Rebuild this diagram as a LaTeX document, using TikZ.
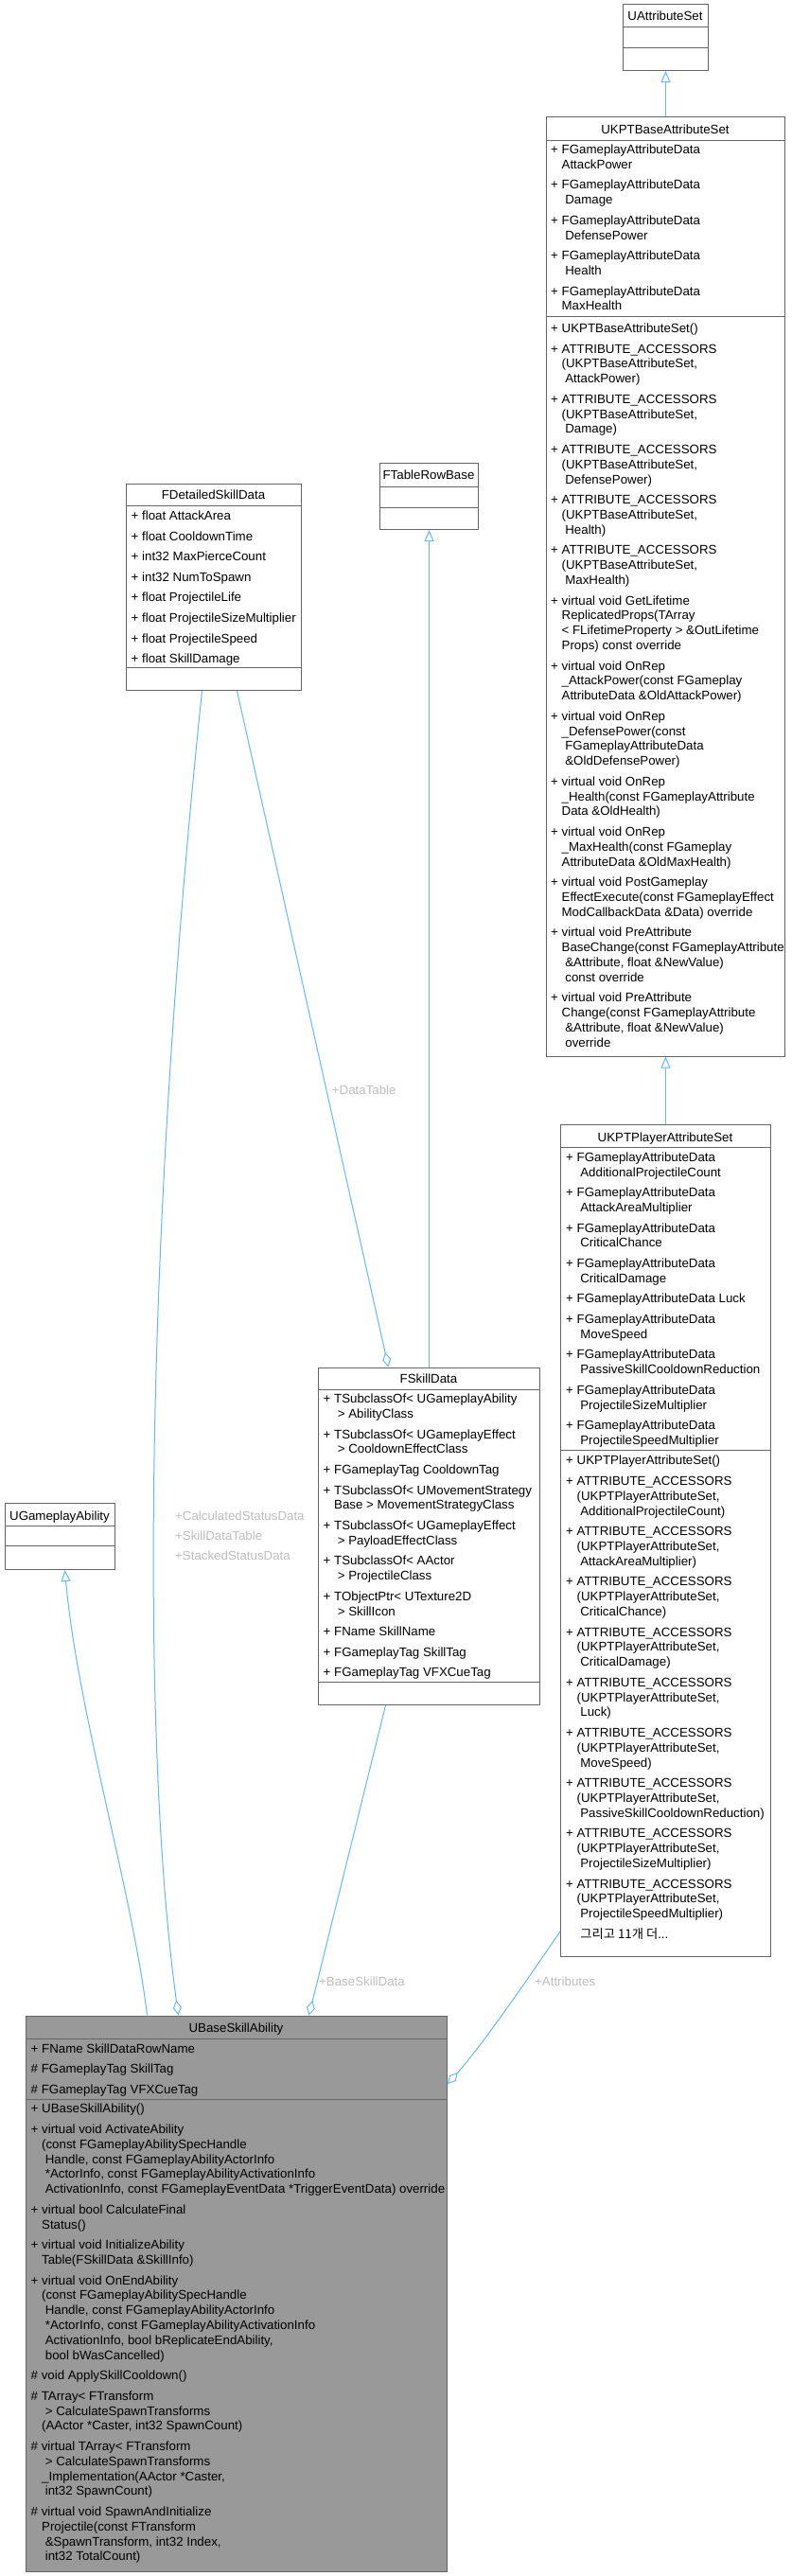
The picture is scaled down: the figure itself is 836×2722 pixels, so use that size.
\documentclass[tikz,border=0pt]{standalone}
\usepackage{fontspec}
\setmainfont{Liberation Sans}
\newfontfamily\krfont{Noto Sans CJK KR}
\usetikzlibrary{arrows.meta}
\definecolor{boxline}{HTML}{666666}
\definecolor{boxfill}{HTML}{999999}
\definecolor{edgeblue}{HTML}{63B8FF}
\definecolor{labelgray}{HTML}{BEBEBE}
\newcommand\dfs{\fontsize{13.3}{15.8}\selectfont}
\newcommand\ind{\hphantom{+\ }}
\newcommand\itemgap{\\[5.8pt]}
\newcommand\lblgap{\\[5.4pt]}
\newcommand\rows[1]{\begin{tabular}[t]{@{}l@{}}#1\end{tabular}}
\tikzset{
  classbox/.style={draw=boxline, line width=1pt, fill=white, inner sep=0pt, anchor=north west},
  hibox/.style={classbox, fill=boxfill},
  sepline/.style={draw=boxline, line width=1pt},
  ctitle/.style={anchor=base, inner sep=0pt, font=\dfs},
  ctext/.style={anchor=base west, inner sep=0pt, font=\dfs},
  elabel/.style={anchor=base west, inner sep=0pt, font=\dfs, text=labelgray},
  conn/.style={draw=edgeblue, line width=1pt},
  inh/.style={conn, -{Triangle[open, length=12pt, width=10pt, line width=1pt]}},
  agg/.style={conn, -{Diamond[open, length=16pt, width=9pt, line width=1pt]}},
}
\begin{document}
\begin{tikzpicture}[x=1pt,y=-1pt]
\fill[white] (0,0) rectangle (836,2722);
\useasboundingbox (0,0) rectangle (836,2722);

% ---------- UAttributeSet
\node[classbox, minimum width=90pt, minimum height=70pt] (uattr) at (658,4) {};
\draw[sepline] (uattr.west |- 0,29) -- (uattr.east |- 0,29);
\draw[sepline] (uattr.west |- 0,51) -- (uattr.east |- 0,51);
\node[ctitle] (uattrT) at (703,21.5) {UAttributeSet};

% ---------- UKPTBaseAttributeSet
\node[classbox, minimum width=252pt, minimum height=992.5pt] (ubase) at (577,123) {};
\draw[sepline] (ubase.west |- 0,148) -- (ubase.east |- 0,148);
\draw[sepline] (ubase.west |- 0,334) -- (ubase.east |- 0,334);
\node[ctitle] (ubaseT) at (703,141.5) {UKPTBaseAttributeSet};
\node[ctext] (ubaseA) at (582,162.5) {\rows{%
+ FGameplayAttributeData\\
\ind AttackPower\itemgap
+ FGameplayAttributeData\\
\ind\ Damage\itemgap
+ FGameplayAttributeData\\
\ind\ DefensePower\itemgap
+ FGameplayAttributeData\\
\ind\ Health\itemgap
+ FGameplayAttributeData\\
\ind MaxHealth}};
\node[ctext] (ubaseM) at (582,351.5) {\rows{%
+ UKPTBaseAttributeSet()\itemgap
+ ATTRIBUTE\_ACCESSORS\\
\ind(UKPTBaseAttributeSet,\\
\ind\ AttackPower)\itemgap
+ ATTRIBUTE\_ACCESSORS\\
\ind(UKPTBaseAttributeSet,\\
\ind\ Damage)\itemgap
+ ATTRIBUTE\_ACCESSORS\\
\ind(UKPTBaseAttributeSet,\\
\ind\ DefensePower)\itemgap
+ ATTRIBUTE\_ACCESSORS\\
\ind(UKPTBaseAttributeSet,\\
\ind\ Health)\itemgap
+ ATTRIBUTE\_ACCESSORS\\
\ind(UKPTBaseAttributeSet,\\
\ind\ MaxHealth)\itemgap
+ virtual void GetLifetime\\
\ind ReplicatedProps(TArray\\
\ind< FLifetimeProperty > \&OutLifetime\\
\ind Props) const override\itemgap
+ virtual void OnRep\\
\ind\_AttackPower(const FGameplay\\
\ind AttributeData \&OldAttackPower)\itemgap
+ virtual void OnRep\\
\ind\_DefensePower(const\\
\ind\ FGameplayAttributeData\\
\ind\ \&OldDefensePower)\itemgap
+ virtual void OnRep\\
\ind\_Health(const FGameplayAttribute\\
\ind Data \&OldHealth)\itemgap
+ virtual void OnRep\\
\ind\_MaxHealth(const FGameplay\\
\ind AttributeData \&OldMaxHealth)\itemgap
+ virtual void PostGameplay\\
\ind EffectExecute(const FGameplayEffect\\
\ind ModCallbackData \&Data) override\itemgap
+ virtual void PreAttribute\\
\ind BaseChange(const FGameplayAttribute\\
\ind\ \&Attribute, float \&NewValue)\\
\ind\ const override\itemgap
+ virtual void PreAttribute\\
\ind Change(const FGameplayAttribute\\
\ind\ \&Attribute, float \&NewValue)\\
\ind\ override}};

% ---------- FDetailedSkillData
\node[classbox, minimum width=185pt, minimum height=218pt] (fdsd) at (133,511) {};
\draw[sepline] (fdsd.west |- 0,534) -- (fdsd.east |- 0,534);
\draw[sepline] (fdsd.west |- 0,705) -- (fdsd.east |- 0,705);
\node[ctitle] (fdsdT) at (225.5,527.8) {FDetailedSkillData};
\node[ctext] (fdsdA) at (138.5,549.5) {\rows{%
+ float AttackArea\itemgap
+ float CooldownTime\itemgap
+ int32 MaxPierceCount\itemgap
+ int32 NumToSpawn\itemgap
+ float ProjectileLife\itemgap
+ float ProjectileSizeMultiplier\itemgap
+ float ProjectileSpeed\itemgap
+ float SkillDamage}};

% ---------- FTableRowBase
\node[classbox, minimum width=104pt, minimum height=70pt] (ftrb) at (401,489) {};
\draw[sepline] (ftrb.west |- 0,514) -- (ftrb.east |- 0,514);
\draw[sepline] (ftrb.west |- 0,536) -- (ftrb.east |- 0,536);
\node[ctitle] (ftrbT) at (453,506.5) {FTableRowBase};

% ---------- FSkillData
\node[classbox, minimum width=234pt, minimum height=356.5pt] (fskill) at (336,1444.5) {};
\draw[sepline] (fskill.west |- 0,1468.6) -- (fskill.east |- 0,1468.6);
\draw[sepline] (fskill.west |- 0,1777.8) -- (fskill.east |- 0,1777.8);
\node[ctitle] (fskillT) at (453,1461.4) {FSkillData};
\node[ctext] (fskillA) at (341.5,1482.7) {\rows{%
+ TSubclassOf< UGameplayAbility\\
\ind\ > AbilityClass\itemgap
+ TSubclassOf< UGameplayEffect\\
\ind\ > CooldownEffectClass\itemgap
+ FGameplayTag CooldownTag\itemgap
+ TSubclassOf< UMovementStrategy\\
\ind Base > MovementStrategyClass\itemgap
+ TSubclassOf< UGameplayEffect\\
\ind\ > PayloadEffectClass\itemgap
+ TSubclassOf< AActor\\
\ind\ > ProjectileClass\itemgap
+ TObjectPtr< UTexture2D\\
\ind\ > SkillIcon\itemgap
+ FName SkillName\itemgap
+ FGameplayTag SkillTag\itemgap
+ FGameplayTag VFXCueTag}};

% ---------- UKPTPlayerAttributeSet
\node[classbox, minimum width=222pt, minimum height=879pt] (uplayer) at (592,1188) {};
\draw[sepline] (uplayer.west |- 0,1212) -- (uplayer.east |- 0,1212);
\draw[sepline] (uplayer.west |- 0,1532.3) -- (uplayer.east |- 0,1532.3);
\node[ctitle] (uplayerT) at (703,1206.2) {UKPTPlayerAttributeSet};
\node[ctext] (uplayerA) at (598,1227.2) {\rows{%
+ FGameplayAttributeData\\
\ind\ AdditionalProjectileCount\itemgap
+ FGameplayAttributeData\\
\ind\ AttackAreaMultiplier\itemgap
+ FGameplayAttributeData\\
\ind\ CriticalChance\itemgap
+ FGameplayAttributeData\\
\ind\ CriticalDamage\itemgap
+ FGameplayAttributeData Luck\itemgap
+ FGameplayAttributeData\\
\ind\ MoveSpeed\itemgap
+ FGameplayAttributeData\\
\ind\ PassiveSkillCooldownReduction\itemgap
+ FGameplayAttributeData\\
\ind\ ProjectileSizeMultiplier\itemgap
+ FGameplayAttributeData\\
\ind\ ProjectileSpeedMultiplier}};
\node[ctext] (uplayerM) at (598,1547.8) {\rows{%
+ UKPTPlayerAttributeSet()\itemgap
+ ATTRIBUTE\_ACCESSORS\\
\ind(UKPTPlayerAttributeSet,\\
\ind\ AdditionalProjectileCount)\itemgap
+ ATTRIBUTE\_ACCESSORS\\
\ind(UKPTPlayerAttributeSet,\\
\ind\ AttackAreaMultiplier)\itemgap
+ ATTRIBUTE\_ACCESSORS\\
\ind(UKPTPlayerAttributeSet,\\
\ind\ CriticalChance)\itemgap
+ ATTRIBUTE\_ACCESSORS\\
\ind(UKPTPlayerAttributeSet,\\
\ind\ CriticalDamage)\itemgap
+ ATTRIBUTE\_ACCESSORS\\
\ind(UKPTPlayerAttributeSet,\\
\ind\ Luck)\itemgap
+ ATTRIBUTE\_ACCESSORS\\
\ind(UKPTPlayerAttributeSet,\\
\ind\ MoveSpeed)\itemgap
+ ATTRIBUTE\_ACCESSORS\\
\ind(UKPTPlayerAttributeSet,\\
\ind\ PassiveSkillCooldownReduction)\itemgap
+ ATTRIBUTE\_ACCESSORS\\
\ind(UKPTPlayerAttributeSet,\\
\ind\ ProjectileSizeMultiplier)\itemgap
+ ATTRIBUTE\_ACCESSORS\\
\ind(UKPTPlayerAttributeSet,\\
\ind\ ProjectileSpeedMultiplier)\itemgap
\ind\ {\krfont 그리고 11개 더}...}};

% ---------- UGameplayAbility
\node[classbox, minimum width=116pt, minimum height=70pt] (ugame) at (5,1588) {};
\draw[sepline] (ugame.west |- 0,1612) -- (ugame.east |- 0,1612);
\draw[sepline] (ugame.west |- 0,1633) -- (ugame.east |- 0,1633);
\node[ctitle] (ugameT) at (63,1606.2) {UGameplayAbility};

% ---------- UBaseSkillAbility
\node[hibox, minimum width=445pt, minimum height=587.5pt] (ubsa) at (27,2129.5) {};
\draw[sepline] (ubsa.west |- 0,2154) -- (ubsa.east |- 0,2154);
\draw[sepline] (ubsa.west |- 0,2218.5) -- (ubsa.east |- 0,2218.5);
\node[ctitle] (ubsaT) at (249.5,2147.7) {UBaseSkillAbility};
\node[ctext] (ubsaA) at (32.5,2169.1) {\rows{%
+ FName SkillDataRowName\itemgap
\# FGameplayTag SkillTag\itemgap
\# FGameplayTag VFXCueTag}};
\node[ctext] (ubsaM) at (32.5,2232.8) {\rows{%
+ UBaseSkillAbility()\itemgap
+ virtual void ActivateAbility\\
\ind(const FGameplayAbilitySpecHandle\\
\ind\ Handle, const FGameplayAbilityActorInfo\\
\ind\ *ActorInfo, const FGameplayAbilityActivationInfo\\
\ind\ ActivationInfo, const FGameplayEventData *TriggerEventData) override\itemgap
+ virtual bool CalculateFinal\\
\ind Status()\itemgap
+ virtual void InitializeAbility\\
\ind Table(FSkillData \&SkillInfo)\itemgap
+ virtual void OnEndAbility\\
\ind(const FGameplayAbilitySpecHandle\\
\ind\ Handle, const FGameplayAbilityActorInfo\\
\ind\ *ActorInfo, const FGameplayAbilityActivationInfo\\
\ind\ ActivationInfo, bool bReplicateEndAbility,\\
\ind\ bool bWasCancelled)\itemgap
\# void ApplySkillCooldown()\itemgap
\# TArray< FTransform\\
\ind\ > CalculateSpawnTransforms\\
\ind(AActor *Caster, int32 SpawnCount)\itemgap
\# virtual TArray< FTransform\\
\ind\ > CalculateSpawnTransforms\\
\ind\_Implementation(AActor *Caster,\\
\ind\ int32 SpawnCount)\itemgap
\# virtual void SpawnAndInitialize\\
\ind Projectile(const FTransform\\
\ind\ \&SpawnTransform, int32 Index,\\
\ind\ int32 TotalCount)}};

% ---------- connectors
\draw[inh] (ubase.north) -- (uattr.south);
\draw[inh] (uplayer.north) -- (ubase.south);
\draw[inh] (fskill.north) -- (ftrb.south);
\draw[inh] ([xshift=-94.5pt]ubsa.north) .. controls (140,2000) and (82,1808) .. ([xshift=5pt]ugame.south);
\draw[agg] ([xshift=-12.5pt]fdsd.south) .. controls (151,1329) and (150,1850) .. ([xshift=-61.5pt]ubsa.north);
\draw[agg] ([xshift=24.5pt]fdsd.south) -- ([xshift=-43pt]fskill.north);
\draw[agg] ([xshift=-46pt]fskill.south) -- ([xshift=76.5pt]ubsa.north);
\draw[agg] ([yshift=27pt]uplayer.south west) .. controls (580,2058) and (515,2155) .. ([yshift=-72.5pt]ubsa.north east);

% ---------- connector labels
\node[elabel] (lblDataTable) at (350.7,1156.2) {+DataTable};
\node[elabel] (lblStatus) at (185,1606.2) {\rows{+CalculatedStatusData\lblgap +SkillDataTable\lblgap +StackedStatusData}};
\node[elabel] (lblBaseSkill) at (337,2098.5) {+BaseSkillData};
\node[elabel] (lblAttributes) at (565,2098.5) {+Attributes};
\end{tikzpicture}
\end{document}
